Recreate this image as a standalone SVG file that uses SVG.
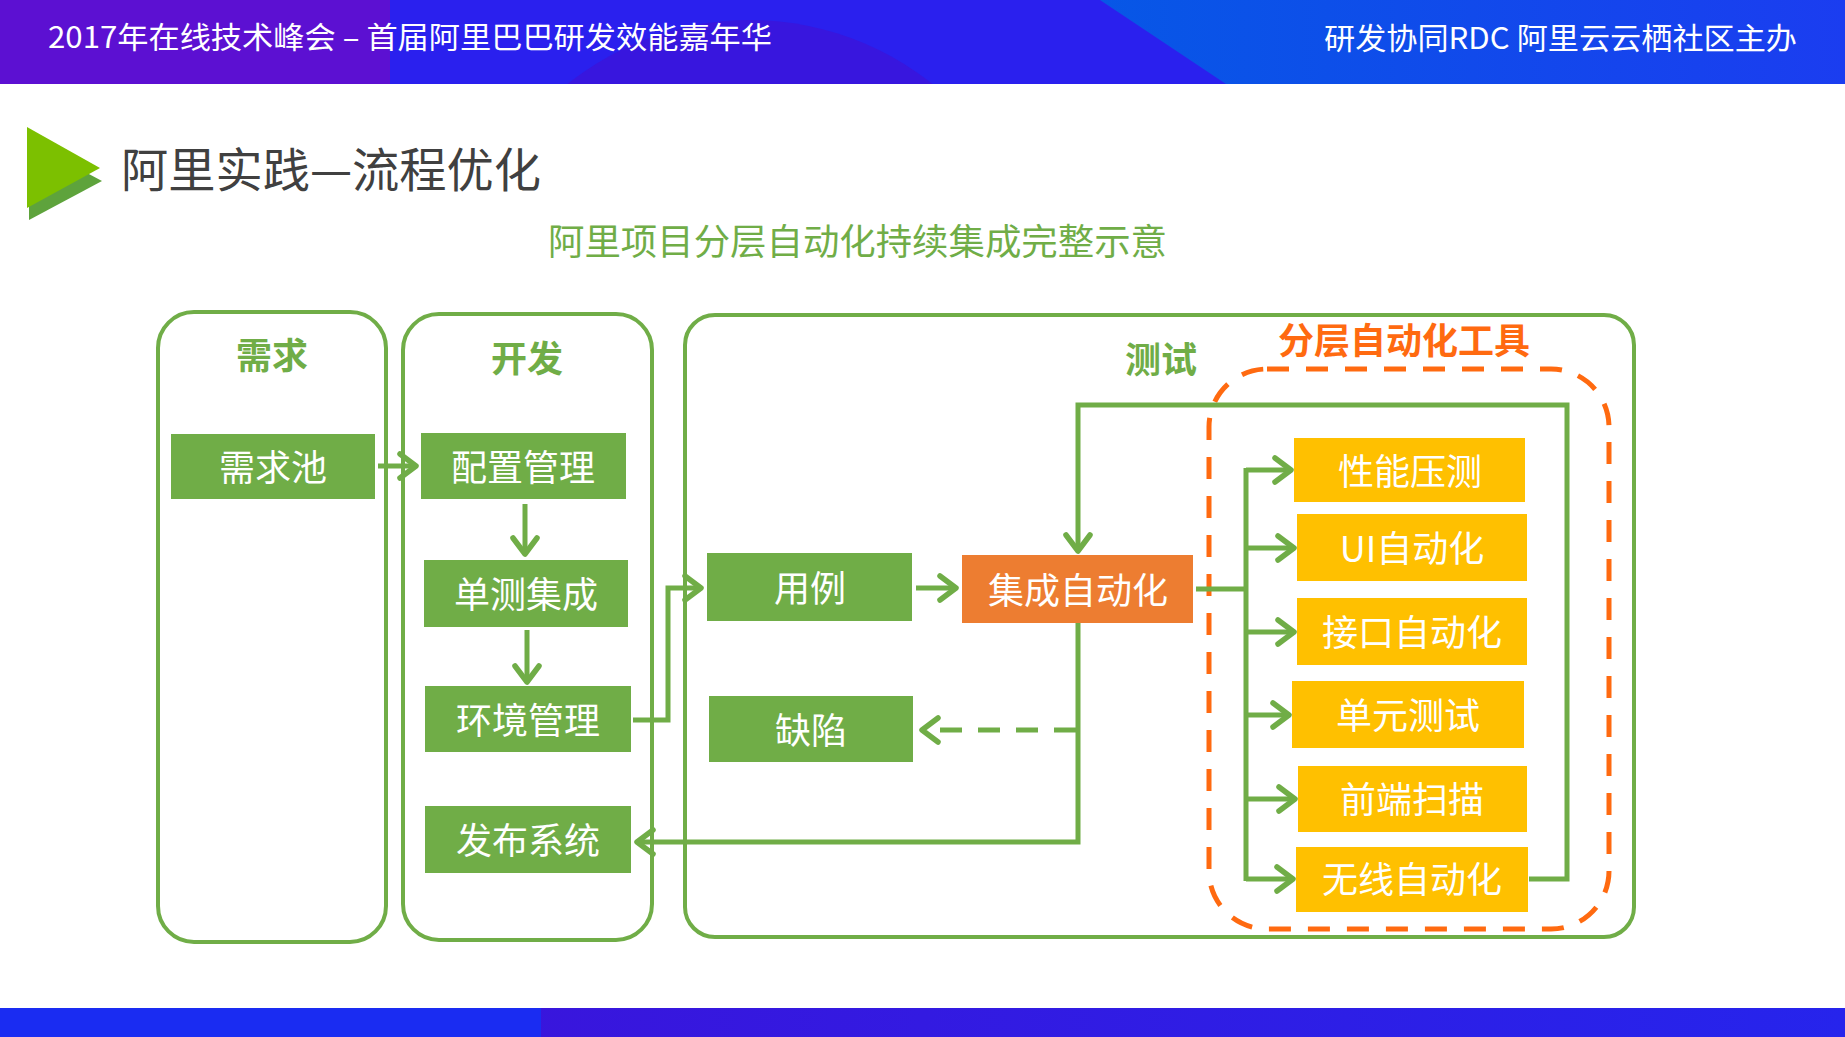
<svg xmlns="http://www.w3.org/2000/svg" width="1845" height="1037" viewBox="0 0 1845 1037">
<defs>
<style>
.lane{fill:none;stroke:#70ad47;stroke-width:4}
.lbl{font-family:"Noto Sans CJK SC","Noto Sans",sans-serif;font-weight:bold;font-size:36px;fill:#70ad47;text-anchor:middle}
.g{fill:#70ad47}
.o{fill:#ed7d31}
.y{fill:#ffc000}
.t{font-family:"Noto Sans CJK SC","Noto Sans",sans-serif;font-size:36px;fill:#ffffff;text-anchor:middle}
.c{fill:none;stroke:#70ad47;stroke-width:5;stroke-linejoin:miter}
.hd{font-family:"Noto Sans CJK SC","Noto Sans",sans-serif;font-size:30px;fill:#ffffff}
</style>
<marker id="ah" viewBox="-20 -15 25 30" markerWidth="25" markerHeight="30" refX="0" refY="0" orient="auto" markerUnits="userSpaceOnUse" overflow="visible">
<path d="M-16,-12 L0,0 L-16,12" fill="none" stroke="#70ad47" stroke-width="5.5" stroke-linecap="round" stroke-linejoin="round"/>
</marker>
<linearGradient id="rg" x1="0" y1="0" x2="1" y2="0">
<stop offset="0" stop-color="#0757e6"/>
<stop offset="1" stop-color="#1b3df0"/>
</linearGradient>
<linearGradient id="fg" x1="0" y1="0" x2="1" y2="0">
<stop offset="0" stop-color="#4010d6"/>
<stop offset="1" stop-color="#2624ec"/>
</linearGradient>
<clipPath id="hc"><rect x="0" y="0" width="1845" height="84"/></clipPath>
</defs>
<rect width="1845" height="1037" fill="#ffffff"/>
<g id="header" clip-path="url(#hc)">
<rect x="0" y="0" width="1845" height="84" fill="#2a20ee"/>
<ellipse cx="750" cy="330" rx="300" ry="310" fill="#3816de"/>
<rect x="0" y="0" width="390" height="84" fill="#5c10d2"/>
<polygon points="1100,0 1845,0 1845,84 1226,84" fill="url(#rg)"/>
<text class="hd" x="48" y="48" textLength="724" lengthAdjust="spacingAndGlyphs">2017年在线技术峰会 – 首届阿里巴巴研发效能嘉年华</text>
<text class="hd" x="1324" y="49" textLength="473" lengthAdjust="spacingAndGlyphs">研发协同RDC 阿里云云栖社区主办</text>
</g>
<g id="footer">
<rect x="0" y="1008" width="1845" height="29" fill="url(#fg)"/>
<rect x="0" y="1008" width="541" height="29" fill="#1a2cf2"/>
</g>
<g id="title">
<polygon points="29,142 102,181 29,220" fill="#5ea33c"/>
<polygon points="27,127 100,168 27,208" fill="#7cc000"/>
<text x="121" y="187" font-family="Noto Sans CJK SC, Noto Sans, sans-serif" font-size="47" fill="#404040" textLength="420" lengthAdjust="spacingAndGlyphs">阿里实践—流程优化</text>
<text x="548" y="255" font-family="Noto Sans CJK SC, Noto Sans, sans-serif" font-size="36" fill="#70ad47" textLength="619" lengthAdjust="spacingAndGlyphs">阿里项目分层自动化持续集成完整示意</text>
</g>
<g id="lane-req">
<rect class="lane" x="158" y="312" width="228" height="630" rx="36"/>
<text class="lbl" x="272" y="369">需求</text>
</g>
<g id="lane-dev">
<rect class="lane" x="403" y="314" width="249" height="626" rx="36"/>
<text class="lbl" x="527" y="372">开发</text>
</g>
<g id="lane-test">
<rect class="lane" x="685" y="315" width="949" height="622" rx="30"/>
<text class="lbl" x="1161" y="373">测试</text>
</g>
<g id="tools-group">
<rect x="1209" y="369" width="400" height="560" rx="58" fill="none" stroke="#ff6a10" stroke-width="5" stroke-dasharray="22 17"/>
<text x="1404" y="354" font-family="Noto Sans CJK SC, Noto Sans, sans-serif" font-weight="bold" font-size="36" fill="#ff6a10" text-anchor="middle">分层自动化工具</text>
</g>
<g id="connectors">
<path class="c" d="M378,466 H416" marker-end="url(#ah)"/>
<path class="c" d="M525,504 V554" marker-end="url(#ah)"/>
<path class="c" d="M527,630 V682" marker-end="url(#ah)"/>
<path class="c" d="M633,720 H668 V588 H701" marker-end="url(#ah)"/>
<path class="c" d="M916,588 H956" marker-end="url(#ah)"/>
<path class="c" d="M1529,879 H1567 V405 H1078 V551" marker-end="url(#ah)"/>
<path class="c" d="M1078,623 V842 H637" marker-end="url(#ah)"/>
<path class="c" d="M1076,730 H922" stroke-dasharray="22 16" marker-end="url(#ah)"/>
<path class="c" d="M1196,589 H1246"/>
<path class="c" d="M1246,468 V881"/>
<path class="c" d="M1246,470 H1291" marker-end="url(#ah)"/>
<path class="c" d="M1246,548 H1294" marker-end="url(#ah)"/>
<path class="c" d="M1246,632 H1294" marker-end="url(#ah)"/>
<path class="c" d="M1246,715 H1289" marker-end="url(#ah)"/>
<path class="c" d="M1246,799 H1295" marker-end="url(#ah)"/>
<path class="c" d="M1246,879 H1293" marker-end="url(#ah)"/>
</g>
<g id="n-pool"><rect class="g" x="171" y="434" width="204" height="65"/><text class="t" x="273" y="481">需求池</text></g>
<g id="n-config"><rect class="g" x="421" y="433" width="205" height="66"/><text class="t" x="523" y="481">配置管理</text></g>
<g id="n-unit-int"><rect class="g" x="424" y="560" width="204" height="67"/><text class="t" x="526" y="608">单测集成</text></g>
<g id="n-env"><rect class="g" x="425" y="686" width="206" height="66"/><text class="t" x="528" y="734">环境管理</text></g>
<g id="n-release"><rect class="g" x="425" y="806" width="206" height="67"/><text class="t" x="528" y="854">发布系统</text></g>
<g id="n-case"><rect class="g" x="707" y="553" width="205" height="68"/><text class="t" x="810" y="602">用例</text></g>
<g id="n-defect"><rect class="g" x="709" y="696" width="204" height="66"/><text class="t" x="811" y="744">缺陷</text></g>
<g id="n-ci"><rect class="o" x="962" y="555" width="231" height="68"/><text class="t" x="1078" y="604">集成自动化</text></g>
<g id="n-perf"><rect class="y" x="1294" y="438" width="231" height="64"/><text class="t" x="1410" y="485">性能压测</text></g>
<g id="n-ui"><rect class="y" x="1297" y="514" width="230" height="67"/><text class="t" x="1412" y="562">UI自动化</text></g>
<g id="n-api"><rect class="y" x="1297" y="598" width="230" height="67"/><text class="t" x="1412" y="646">接口自动化</text></g>
<g id="n-unit"><rect class="y" x="1292" y="681" width="232" height="67"/><text class="t" x="1408" y="729">单元测试</text></g>
<g id="n-fe"><rect class="y" x="1298" y="766" width="229" height="66"/><text class="t" x="1412" y="813">前端扫描</text></g>
<g id="n-mobile"><rect class="y" x="1296" y="847" width="232" height="65"/><text class="t" x="1412" y="893">无线自动化</text></g>
</svg>
